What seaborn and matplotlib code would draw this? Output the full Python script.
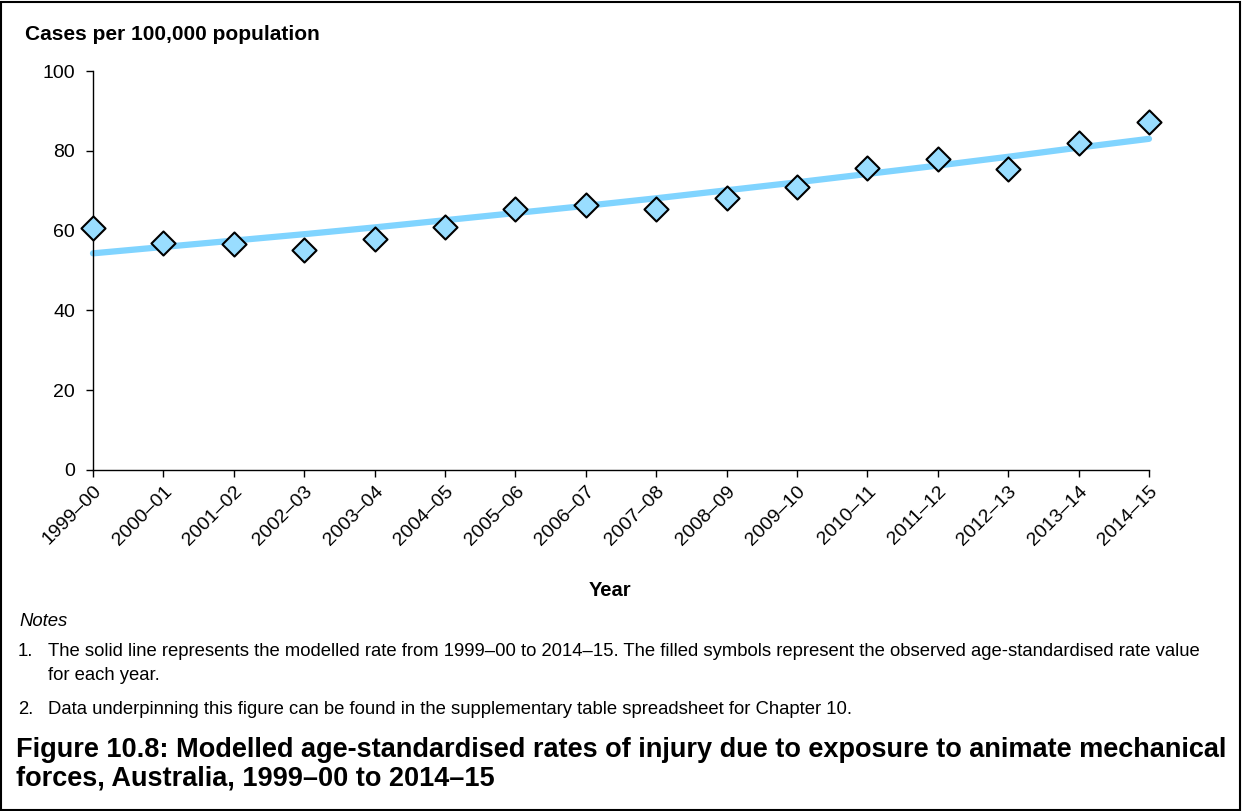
import matplotlib
matplotlib.use("Agg")
import matplotlib.pyplot as plt
import seaborn as sns
import pandas as pd
from matplotlib.patches import Rectangle

years = ["1999–00", "2000–01", "2001–02", "2002–03", "2003–04", "2004–05",
         "2005–06", "2006–07", "2007–08", "2008–09", "2009–10", "2010–11",
         "2011–12", "2012–13", "2013–14", "2014–15"]
observed = [60.6, 56.9, 56.6, 55.1, 57.9, 60.9, 65.4, 66.4, 65.4, 68.2,
            70.9, 75.8, 77.9, 75.5, 81.9, 87.2]
modelled = [54.3, 55.9, 57.5, 59.1, 60.8, 62.6, 64.4, 66.2, 68.1, 70.1,
            72.1, 74.2, 76.3, 78.5, 80.8, 83.0]
y_ticks = [0, 20, 40, 60, 80, 100]

sns.set_theme(style="white")
plt.rcParams['font.family'] = ['Liberation Sans', 'DejaVu Sans']
plt.rcParams['text.color'] = 'black'
plt.rcParams['xtick.color'] = 'black'
plt.rcParams['ytick.color'] = 'black'
plt.rcParams['axes.labelcolor'] = 'black'

df = pd.DataFrame({"pos": list(range(len(years))), "year": years,
                   "observed": observed, "modelled": modelled})

fig = plt.figure(figsize=(12.42, 8.11), dpi=100)
ax = fig.add_axes([93/1242, 1-470/811, (1149-93)/1242, (470-71)/811])

sns.lineplot(data=df, x="pos", y="modelled", ax=ax, color="#80D4FF",
             linewidth=4.5, clip_on=False, zorder=2)
sns.scatterplot(data=df, x="pos", y="observed", ax=ax, marker="D", s=150,
                color="#99DDFF", edgecolor="black", linewidth=1.5,
                clip_on=False, zorder=3)

ax.set_xlim(0, len(years) - 1)
ax.set_ylim(0, 100)
ax.set_yticks(y_ticks)
ax.set_yticklabels([str(t) for t in y_ticks], fontsize=14)
ax.set_xticks(range(len(years)))
ax.set_xticklabels(years, rotation=45, ha="right", rotation_mode="anchor",
                   fontsize=14)
ax.set_xlabel("")
ax.set_ylabel("")
for s in ["top", "right"]:
    ax.spines[s].set_visible(False)
for s in ["left", "bottom"]:
    ax.spines[s].set_color("black")
    ax.spines[s].set_linewidth(1.0)
ax.tick_params(axis="both", which="major", direction="out", length=5,
               width=1, color="black", bottom=True, left=True)
ax.tick_params(axis="y", pad=8)
ax.tick_params(axis="x", pad=4)

fig.text(25/1242, 1-35/811, "Cases per 100,000 population", fontsize=15,
         fontweight="bold", ha="left", va="center")
fig.text(610/1242, 1-590/811, "Year", fontsize=14.5, fontweight="bold",
         ha="center", va="center")

fs_note = 13.3
fig.text(19/1242, 1-621/811, "Notes", fontsize=fs_note, style="italic",
         ha="left", va="center")
fig.text(18/1242, 1-652/811, "1.", fontsize=fs_note, ha="left", va="center")
fig.text(48/1242, 1-652/811,
         "The solid line represents the modelled rate from 1999–00 to 2014–15. "
         "The filled symbols represent the observed age-standardised rate value",
         fontsize=fs_note, ha="left", va="center")
fig.text(48/1242, 1-675/811, "for each year.", fontsize=fs_note, ha="left",
         va="center")
fig.text(18/1242, 1-709/811, "2.", fontsize=fs_note, ha="left", va="center")
fig.text(48/1242, 1-709/811,
         "Data underpinning this figure can be found in the supplementary table "
         "spreadsheet for Chapter 10.", fontsize=fs_note, ha="left", va="center")

fig.text(16/1242, 1-750/811,
         "Figure 10.8: Modelled age-standardised rates of injury due to exposure "
         "to animate mechanical", fontsize=19.5, fontweight="bold",
         ha="left", va="center")
fig.text(16/1242, 1-778/811, "forces, Australia, 1999–00 to 2014–15",
         fontsize=19.5, fontweight="bold", ha="left", va="center")

fig.patches.append(Rectangle((1/1242, 1/811), 1239/1242, 808/811,
                             transform=fig.transFigure, fill=False,
                             edgecolor="black", linewidth=1.5))

fig.savefig("out.png", dpi=100)
